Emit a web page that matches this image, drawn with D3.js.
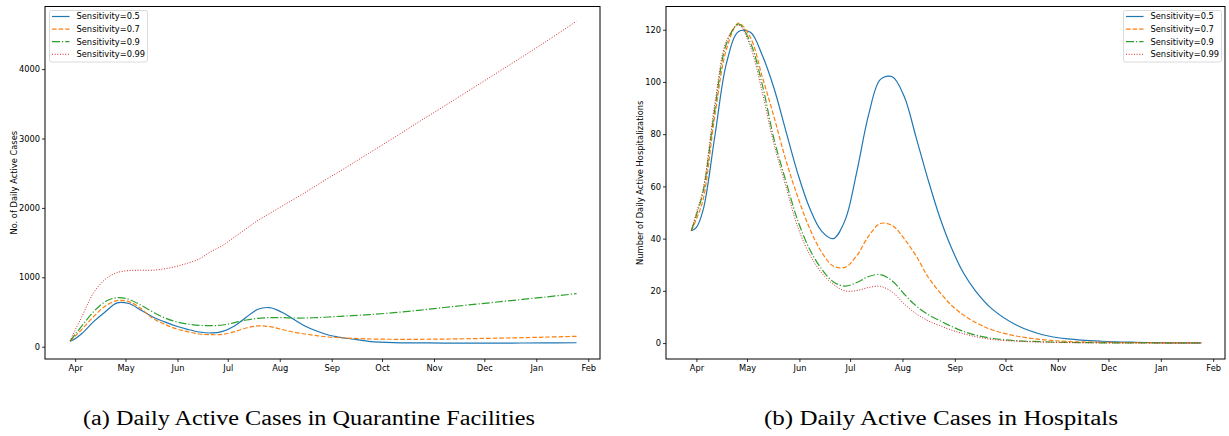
<!DOCTYPE html>
<html>
<head>
<meta charset="utf-8">
<script src="https://cdn.jsdelivr.net/npm/d3@7"></script>
<style>
  body { margin: 0; background: #fff; }
  svg { display: block; }
  .tick text { font-family: "DejaVu Sans", sans-serif; font-size: 8.3px; fill: #000; }
  .tick line { stroke: #000; stroke-width: 0.8; }
  .domain { display: none; }
</style>
</head>
<body>
<svg width="1229" height="436"></svg>
<script>
const W = 1229, H = 436;

// sample dates shared by every series
const dates = ["2020-03-29","2020-04-01","2020-04-05","2020-04-12","2020-04-19","2020-04-26","2020-05-03",
  "2020-05-10","2020-05-17","2020-05-24","2020-05-31","2020-06-07","2020-06-14","2020-06-21",
  "2020-06-28","2020-07-05","2020-07-12","2020-07-19","2020-07-26","2020-08-02","2020-08-09",
  "2020-08-16","2020-08-23","2020-08-30","2020-09-06","2020-09-13","2020-09-23","2020-10-08",
  "2020-10-23","2020-11-07","2020-11-27","2020-12-17","2021-01-06","2021-01-25"];

const seriesNames = ["Sensitivity=0.5", "Sensitivity=0.7", "Sensitivity=0.9", "Sensitivity=0.99"];

// (a) quarantine facilities
const quarantine05 = [80,116,190,361,505,632,622,530,433,361,299,251,212,198,222,299,424,540,563,500,400,
  299,226,169,135,111,78,58,55,52,52,53,55,57];
const quarantine07 = [80,154,251,433,587,664,650,553,414,327,260,217,183,173,178,217,270,299,289,251,212,
  183,159,140,130,121,112,107,107,110,118,127,138,150];
const quarantine09 = [80,178,300,505,650,707,683,601,505,419,361,327,308,303,313,346,385,409,419,419,414,
  414,419,428,438,447,462,490,525,565,615,665,715,765];
const quarantine099 = [80,241,433,779,972,1068,1097,1102,1102,1121,1155,1203,1265,1371,1460,1580,1700,1820,1920,2020,2120,
  2220,2325,2430,2530,2635,2785,3010,3240,3465,3770,4075,4385,4690];

// (b) hospitals
const hospital05 = [43,44.3,51,79.6,107.7,119.3,119,110.2,97.5,81.2,65,51.8,43,40,47,65.7,87.5,101,102,94.5,79,
  63,48.4,36.5,27,20.2,13.1,6.7,3.2,1.6,0.7,0.3,0.1,0.05];
const hospital07 = [43,47.5,55,87.5,113,122.5,117,102,86.5,70,56,44,35,29.5,29,33.5,41,45.8,45,40,33.5,
  25.5,19.5,14.5,10.8,8,5.1,2.6,1.3,0.6,0.3,0.15,0.08,0.05];
const hospital09 = [43,49,58,90,115,122.2,115,99,78,62,47,36,28.5,23.5,21.8,23.2,25.5,26.2,23.8,18.8,14.3,
  11,8.6,6.4,4.5,3.1,1.8,0.9,0.5,0.25,0.1,0.05,0.03,0.02];
const hospital099 = [43,50,59,92,116,121.8,113.5,96,76,60,44.5,34,27,22.5,20,20.1,21.3,21.7,19.5,15,11.3,
  8.6,6.7,5,3.6,2.5,1.4,0.7,0.35,0.17,0.08,0.04,0.02,0.01];

const quarantineTicks = [0, 1000, 2000, 3000, 4000];
const hospitalTicks = [0, 20, 40, 60, 80, 100, 120];

const colors = ["#1f77b4", "#ff7f0e", "#2ca02c", "#d62728"];
const dashes = [null, "4.6,2", "8,2,1.25,2", "1,1.65"];
const widths = [1.2, 1.2, 1.2, 1];

const parse = d3.timeParse("%Y-%m-%d");
const x0 = parse("2020-03-14"), x1 = parse("2021-02-08");

const svg = d3.select("svg");
svg.append("rect").attr("width", W).attr("height", H).attr("fill", "#fff");

const panels = [
  { left: 45, right: 600, yDomain: [-177, 4902], ticks: quarantineTicks,
    series: [quarantine05, quarantine07, quarantine09, quarantine099],
    ylabel: "No. of Daily Active Cases", ylabelX: 14,
    legendX: 49.5, caption: "(a) Daily Active Cases in Quarantine Facilities", capX: 83, capW: 452 },
  { left: 666, right: 1225, yDomain: [-6.1, 128.9], ticks: hospitalTicks,
    series: [hospital05, hospital07, hospital09, hospital099],
    ylabel: "Number of Daily Active Hospitalizations", ylabelX: 640,
    legendX: 1123.5, caption: "(b) Daily Active Cases in Hospitals", capX: 764, capW: 354 }
];

const plotTop = 6.5, plotBottom = 359;

panels.forEach(p => {
  const x = d3.scaleTime().domain([x0, x1]).range([p.left, p.right]);
  const y = d3.scaleLinear().domain(p.yDomain).range([plotBottom, plotTop]);
  const g = svg.append("g");

  const clipId = "clip" + p.left;
  g.append("clipPath").attr("id", clipId)
    .append("rect").attr("x", p.left).attr("y", plotTop)
    .attr("width", p.right - p.left).attr("height", plotBottom - plotTop);

  // lines
  const line = d3.line()
    .x((d, i) => x(parse(dates[i])))
    .y(d => y(d))
    .curve(d3.curveCatmullRom);

  p.series.forEach((vals, k) => {
    g.append("path")
      .datum(vals)
      .attr("clip-path", `url(#${clipId})`)
      .attr("fill", "none")
      .attr("stroke", colors[k])
      .attr("stroke-width", widths[k])
      .attr("stroke-dasharray", dashes[k])
      .attr("d", line);
  });

  // axes
  const months = d3.timeMonth.range(parse("2020-04-01"), parse("2021-02-02"));
  g.append("g")
    .attr("transform", `translate(0,${plotBottom})`)
    .call(d3.axisBottom(x).tickValues(months).tickFormat(d3.timeFormat("%b")).tickSize(3).tickPadding(3));

  g.append("g")
    .attr("transform", `translate(${p.left},0)`)
    .call(d3.axisLeft(y).tickValues(p.ticks).tickFormat(d3.format("d")).tickSize(3).tickPadding(2));

  // frame
  g.append("rect")
    .attr("x", p.left).attr("y", plotTop)
    .attr("width", p.right - p.left).attr("height", plotBottom - plotTop)
    .attr("fill", "none").attr("stroke", "#000").attr("stroke-width", 1);

  // y label
  const cy = (plotTop + plotBottom) / 2;
  g.append("text")
    .attr("transform", `translate(${p.ylabelX},${cy}) rotate(-90)`)
    .attr("text-anchor", "middle")
    .attr("dy", "0.35em")
    .style("font-family", "DejaVu Sans, sans-serif")
    .style("font-size", "8.3px")
    .text(p.ylabel);

  // legend
  const lg = g.append("g").attr("transform", `translate(${p.legendX},10.5)`);
  lg.append("rect")
    .attr("width", 98).attr("height", 51.5).attr("rx", 2)
    .attr("fill", "#fff").attr("fill-opacity", 0.8)
    .attr("stroke", "#d0d0d0").attr("stroke-width", 0.8);
  seriesNames.forEach((name, k) => {
    const ry = 6 + k * 12.6;
    lg.append("line")
      .attr("x1", 2.5).attr("x2", 20).attr("y1", ry).attr("y2", ry)
      .attr("stroke", colors[k]).attr("stroke-width", widths[k])
      .attr("stroke-dasharray", dashes[k]);
    lg.append("text")
      .attr("x", 27).attr("y", ry).attr("dy", "0.35em")
      .style("font-family", "DejaVu Sans, sans-serif")
      .style("font-size", "8.3px")
      .text(name);
  });

  // caption
  svg.append("text")
    .attr("x", p.capX).attr("y", 425)
    .attr("textLength", p.capW).attr("lengthAdjust", "spacingAndGlyphs")
    .style("font-family", "Liberation Serif, serif")
    .style("font-size", "20px")
    .text(p.caption);
});
</script>
</body>
</html>
